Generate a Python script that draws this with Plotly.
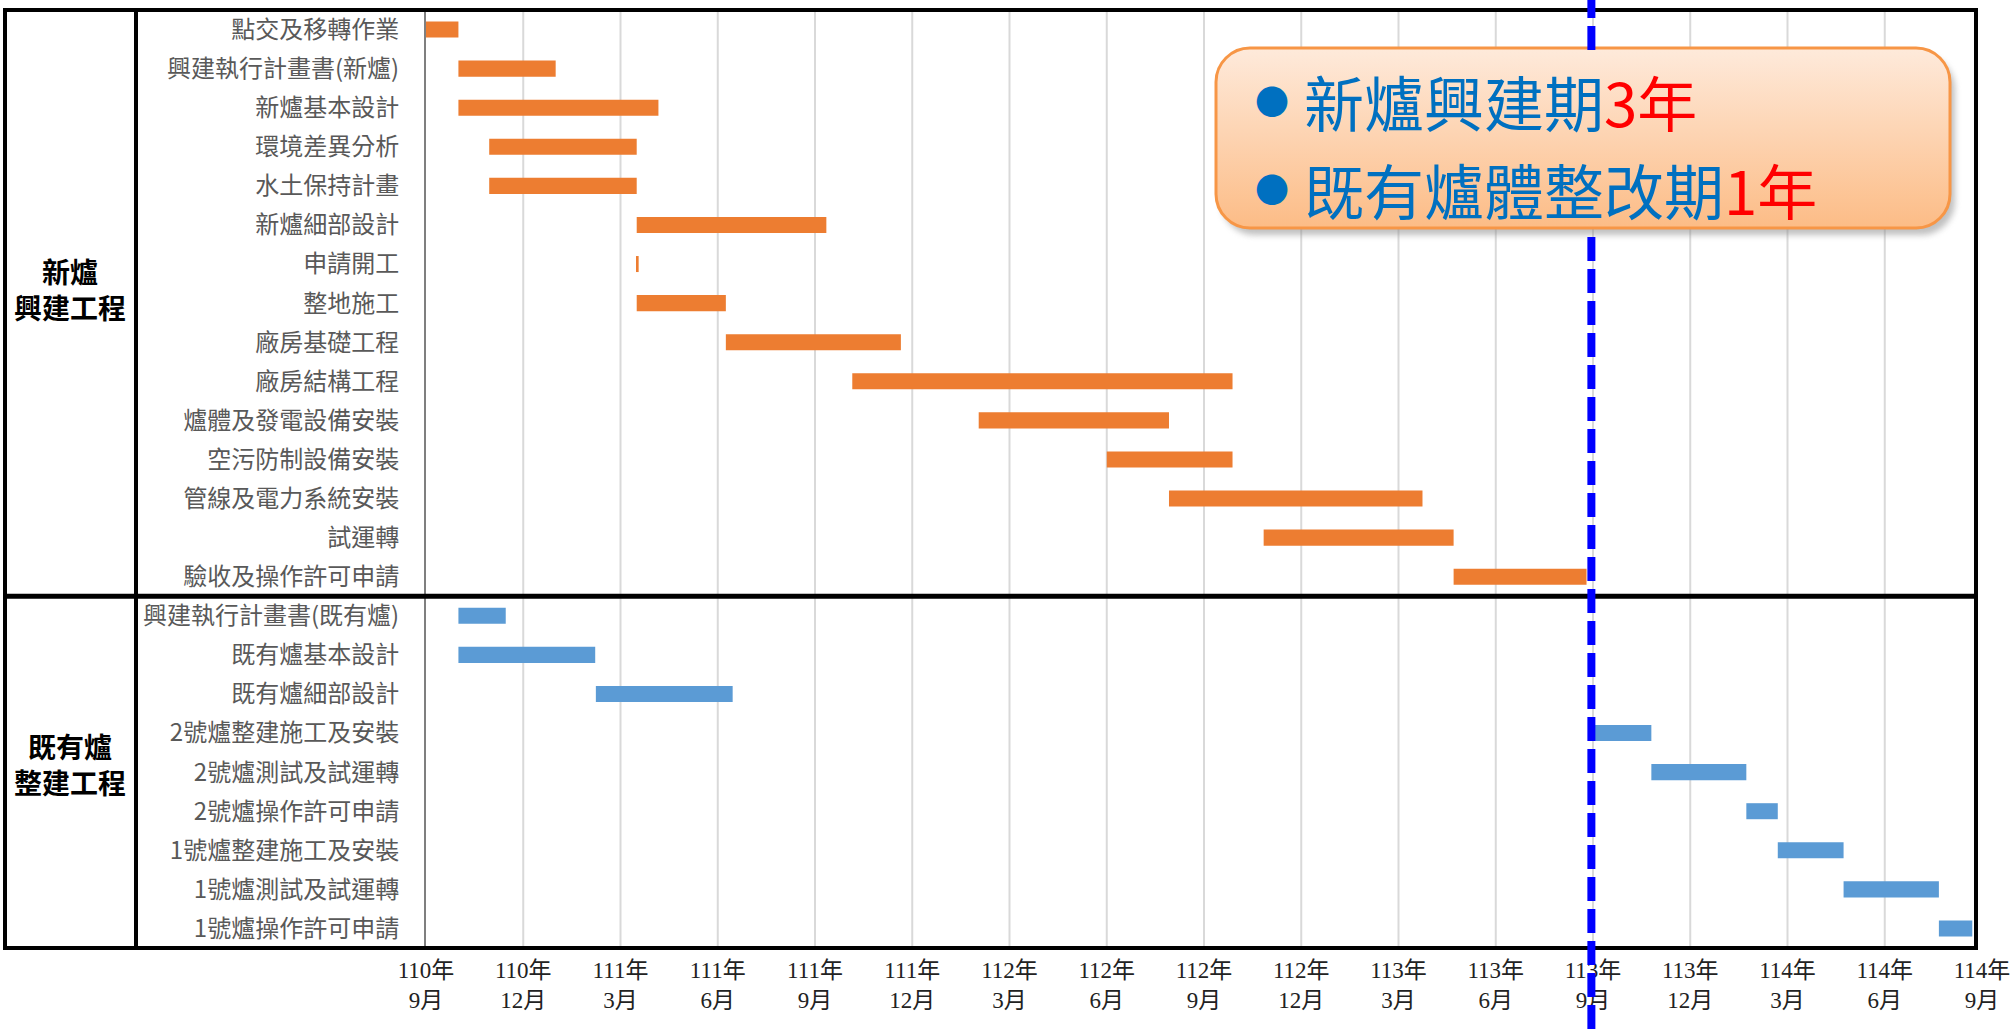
import base64
import plotly.graph_objects as go

# ---------------- data ----------------
new_tasks = ["點交及移轉作業", "興建執行計畫書(新爐)", "新爐基本設計", "環境差異分析", "水土保持計畫",
             "新爐細部設計", "申請開工", "整地施工", "廠房基礎工程", "廠房結構工程",
             "爐體及發電設備安裝", "空污防制設備安裝", "管線及電力系統安裝", "試運轉", "驗收及操作許可申請"]
new_start = [0.0, 1.0, 1.0, 1.95, 1.95, 6.5, 6.5, 6.5, 9.25, 13.15, 17.05, 21.0, 22.92, 25.84, 31.7]
new_end = [1.0, 4.0, 7.17, 6.5, 6.5, 12.35, 6.56, 9.25, 14.65, 24.88, 22.92, 24.88, 30.74, 31.7, 35.8]

old_tasks = ["興建執行計畫書(既有爐)", "既有爐基本設計", "既有爐細部設計", "2號爐整建施工及安裝",
             "2號爐測試及試運轉", "2號爐操作許可申請", "1號爐整建施工及安裝", "1號爐測試及試運轉", "1號爐操作許可申請"]
old_start = [1.0, 1.0, 5.24, 36.0, 37.8, 40.73, 41.7, 43.73, 46.67]
old_end = [2.46, 5.22, 9.46, 37.8, 40.73, 41.7, 43.73, 46.67, 47.7]

tick_pos = [0, 3, 6, 9, 12, 15, 18, 21, 24, 27, 30, 33, 36, 39, 42, 45, 48]
tick_years = ["110年", "110年", "111年", "111年", "111年", "111年", "112年", "112年", "112年",
              "112年", "113年", "113年", "113年", "113年", "114年", "114年", "114年"]
tick_months = ["9月", "12月", "3月", "6月", "9月", "12月", "3月", "6月", "9月",
               "12月", "3月", "6月", "9月", "12月", "3月", "6月", "9月"]
milestone = 35.95

group_labels = ["新爐<br>興建工程", "既有爐<br>整建工程"]
note_lines = [("新爐興建期", "3年"), ("既有爐體整改期", "1年")]

# ---------------- layout geometry ----------------
W, H = 2014, 1029
L, R, T, B = 426, 32, 10, 81
PW, PH = W - L - R, H - T - B


def px(x):
    return (x - L) / PW


def py(y):
    return (H - B - y) / PH


CJK = "Noto Sans CJK TC"
all_tasks = new_tasks + old_tasks

fig = go.Figure()
fig.add_trace(go.Bar(
    y=new_tasks, x=[e - s for s, e in zip(new_start, new_end)], base=new_start,
    orientation="h", marker=dict(color="#ED7D31", line=dict(width=0)), width=0.41,
    showlegend=False, hoverinfo="skip"))
fig.add_trace(go.Bar(
    y=old_tasks, x=[e - s for s, e in zip(old_start, old_end)], base=old_start,
    orientation="h", marker=dict(color="#5B9BD5", line=dict(width=0)), width=0.41,
    showlegend=False, hoverinfo="skip"))

shapes = []
# vertical gridlines
for t in tick_pos[1:-1]:
    shapes.append(dict(type="line", xref="x", yref="paper", x0=t, x1=t, y0=0, y1=1,
                       line=dict(color="#D9D9D9", width=2), layer="below"))
# frame
frame_r = px(1976)
shapes.append(dict(type="rect", xref="paper", yref="paper", x0=px(5), x1=frame_r, y0=0, y1=1,
                   line=dict(color="black", width=4), layer="above"))
shapes.append(dict(type="line", xref="paper", yref="paper", x0=px(136), x1=px(136), y0=0, y1=1,
                   line=dict(color="black", width=4), layer="above"))
shapes.append(dict(type="line", xref="paper", yref="y", x0=px(5), x1=frame_r,
                   y0=len(new_tasks) - 0.5, y1=len(new_tasks) - 0.5,
                   line=dict(color="black", width=5), layer="above"))
# milestone dashed line (passes behind the note box)
box_top, box_bot = 46, 232
for ya, yb in [(0, box_top + 4), (box_bot, H)]:
    shapes.append(dict(type="line", xref="x", yref="paper", x0=milestone, x1=milestone,
                       y0=py(yb), y1=py(ya), line=dict(color="#0000FF", width=8, dash="24px,8px"),
                       layer="above"))

# note box (gradient rounded rectangle)
svg = ("<svg xmlns='http://www.w3.org/2000/svg' width='750' height='196' viewBox='0 0 750 196'>"
       "<defs><linearGradient id='g' x1='0' y1='0' x2='0' y2='1'>"
       "<stop offset='0' stop-color='#FEEADB'/><stop offset='1' stop-color='#FCBC86'/></linearGradient>"
       "<filter id='s' x='-5%' y='-10%' width='110%' height='130%'><feGaussianBlur stdDeviation='3'/></filter></defs>"
       "<rect x='7' y='9' width='734' height='180' rx='34' fill='#8c8c8c' opacity='0.55' filter='url(#s)'/>"
       "<rect x='2' y='2' width='734' height='180' rx='34' fill='url(#g)' stroke='#F79646' stroke-width='3'/>"
       "</svg>")
src = "data:image/svg+xml;base64," + base64.b64encode(svg.encode("utf-8")).decode("ascii")
images = [dict(source=src, xref="paper", yref="paper", x=px(1214), y=py(box_top),
               sizex=750 / PW, sizey=196 / PH, xanchor="left", yanchor="top",
               sizing="stretch", layer="above")]

annotations = []
for (blue, red), yc in zip(note_lines, [101, 188]):
    annotations.append(dict(xref="paper", yref="paper", x=px(1272), y=py(yc), text="●",
                            showarrow=False, xanchor="center", yanchor="middle",
                            font=dict(family=CJK, size=34, color="#0070C0")))
    annotations.append(dict(xref="paper", yref="paper", x=px(1302), y=py(yc),
                            text=f"{blue}<span style='color:#FF0000'>{red}</span>",
                            showarrow=False, xanchor="left", yanchor="middle",
                            font=dict(family=CJK, size=60, color="#0070C0")))
for lbl, yc in zip(group_labels, [289, 764]):
    annotations.append(dict(xref="paper", yref="paper", x=px(70), y=py(yc), text=f"<b>{lbl}</b>",
                            showarrow=False, xanchor="center", yanchor="middle",
                            font=dict(family=CJK, size=28, color="black")))

fig.update_layout(
    width=W, height=H, margin=dict(l=L, r=R, t=T, b=B, autoexpand=False),
    paper_bgcolor="white", plot_bgcolor="white", barmode="overlay",
    shapes=shapes, images=images, annotations=annotations,
    xaxis=dict(range=[0, 48], tickmode="array", tickvals=tick_pos,
               ticktext=[f"{a}<br>{b}" for a, b in zip(tick_years, tick_months)],
               showgrid=False, zeroline=False, showline=False, ticks="",
               ticklabelstandoff=6, automargin=False, ticklabeloverflow="allow",
               tickfont=dict(family="Liberation Serif, " + CJK, size=23, color="#222222")),
    yaxis=dict(type="category", categoryorder="array", categoryarray=all_tasks,
               range=[len(all_tasks) - 0.5, -0.5], showgrid=False, zeroline=False,
               showline=True, linecolor="#7F7F7F", linewidth=2, ticks="",
               ticklabelstandoff=20, automargin=False,
               tickfont=dict(family=CJK, size=24, color="#595959")),
)

fig.write_html("out.html", config={"displayModeBar": False},
               post_script="document.body.style.margin='0';document.body.style.overflow='hidden';")
